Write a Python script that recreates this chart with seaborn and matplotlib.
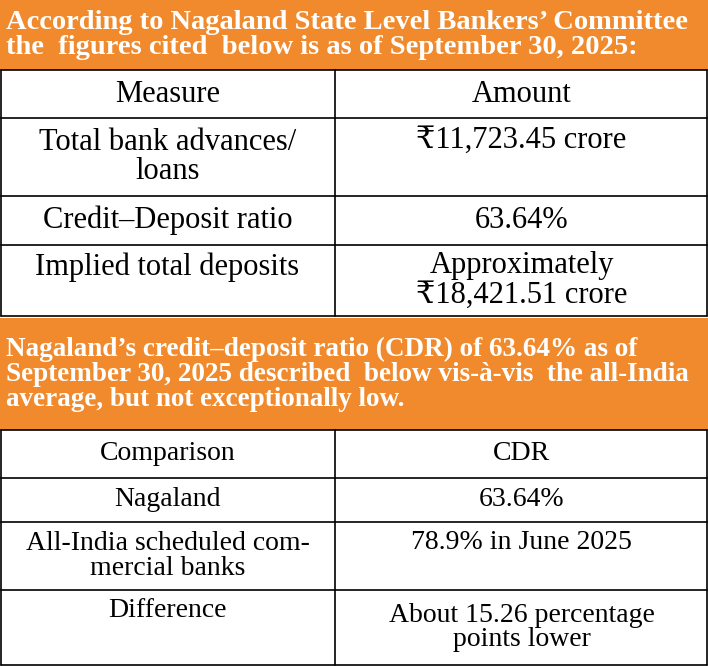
import matplotlib.pyplot as plt
import seaborn as sns

sns.set_theme(style="white")
plt.rcParams["font.family"] = ["Liberation Serif", "DejaVu Serif"]

title1 = "According to Nagaland State Level Bankers\u2019 Committee\nthe  figures cited  below is as of September 30, 2025:"
measures = ["Measure", "Total bank advances/\nloans", "Credit\u2013Deposit ratio", "Implied total deposits"]
amounts = ["Amount", "\u20b911,723.45 crore", "63.64%", "Approximately\n\u20b918,421.51 crore"]

title2 = ("Nagaland\u2019s credit\u2013deposit ratio (CDR) of 63.64% as of\n"
          "September 30, 2025 described  below vis-\u00e0-vis  the all-India\n"
          "average, but not exceptionally low.")
comparisons = ["Comparison", "Nagaland", "All-India scheduled com-\nmercial banks", "Difference"]
cdrs = ["CDR", "63.64%", "78.9% in June 2025", "About 15.26 percentage\npoints lower"]

orange = "#F08A2C"
W, H, split = 708, 666, 335

fig = plt.figure(figsize=(7.08, 6.66), dpi=100)
ax = fig.add_axes([0, 0, 1, 1])
ax.set_xlim(0, W)
ax.set_ylim(H, 0)
ax.axis("off")


def block(top, head_bottom, title, rows_l, rows_r, edges, size, tsize):
    ax.add_patch(plt.Rectangle((0, top), W, head_bottom - top, color=orange, lw=0))
    ax.text(6, (top + head_bottom) / 2, title, color="white", fontsize=tsize,
            fontweight="bold", va="center", ha="left", linespacing=1.0)
    ys = [head_bottom] + edges
    for y in ys:
        ax.plot([1, W - 1], [y, y], color="black", lw=1.2)
    for x in (1, split, W - 1):
        ax.plot([x, x], [ys[0], ys[-1]], color="black", lw=1.2)
    for i in range(len(rows_l)):
        y0, y1 = ys[i], ys[i + 1]
        ym = (y0 + y1) / 2
        multi = "\n" in rows_l[i] or "\n" in rows_r[i]
        for x, s in ((split / 2, rows_l[i]), ((split + W) / 2, rows_r[i])):
            if multi and "\n" not in s:
                ax.text(x, y0 + 8, s, fontsize=size, ha="center", va="top", color="black")
            else:
                ax.text(x, ym, s, fontsize=size, ha="center", va="center",
                        color="black", linespacing=1.0)


block(0, 70, title1, measures, amounts, [118, 196, 245, 316], 22, 20.5)
block(318, 430, title2, comparisons, cdrs, [478, 522, 590, 665], 20, 19.5)

fig.savefig("out.png", dpi=100)
